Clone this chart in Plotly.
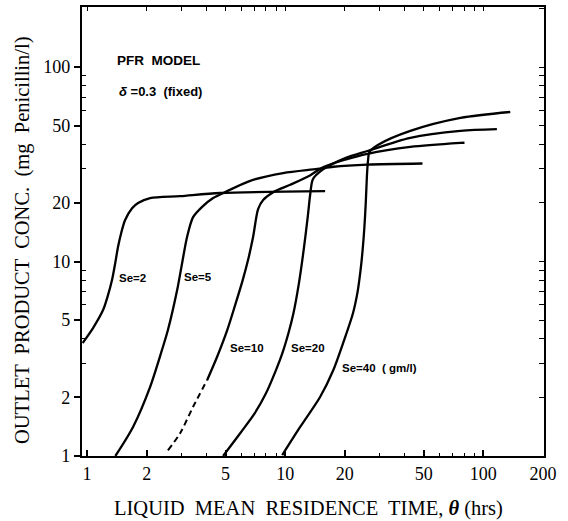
import plotly.graph_objects as go

# ---------------- data ----------------
x_ticks = [1, 2, 5, 10, 20, 50, 100, 200]
y_ticks = [1, 2, 5, 10, 20, 50, 100]

se2_x = [0.95, 1.072, 1.205, 1.27, 1.337, 1.39, 1.434, 1.49, 1.555, 1.688, 1.81, 2.08, 2.95, 4.70, 15.9]
se2_y = [3.81, 4.55, 5.63, 6.6, 8.03, 9.9, 11.9, 14.1, 16.3, 18.8, 20.0, 21.2, 21.7, 22.5, 23.0]

se5_x = [1.39, 1.707, 2.08, 2.39, 2.56, 2.85, 3.02, 3.20, 3.43, 3.81, 4.33, 4.87, 6.66, 9.77, 14.5, 17.5, 26.0, 49.3]
se5_y = [1.0, 1.41, 2.26, 3.51, 4.44, 7.13, 9.83, 13.4, 16.9, 19.1, 21.2, 22.5, 26.0, 28.5, 29.9, 30.7, 31.5, 31.9]

se10_x = [2.56, 2.95, 3.43, 4.04, 4.53, 5.10, 5.6, 6.1, 6.5, 6.89, 7.30, 7.74, 8.70, 10.6, 13.4, 15.6, 20.1, 26.0, 42.8, 76.6, 80.3]
se10_y = [1.07, 1.31, 1.79, 2.46, 3.23, 4.44, 6.0, 8.0, 10.2, 13.4, 18.6, 20.7, 22.7, 24.8, 27.8, 30.6, 33.4, 35.8, 38.8, 40.7, 40.8]

se20_x = [4.86, 5.93, 7.0, 8.0, 8.9, 9.7, 10.4, 11.0, 11.7, 12.4, 13.0, 13.4, 13.8, 15.4, 20.1, 26.0, 42.8, 76.6, 117.0]
se20_y = [1.0, 1.31, 1.65, 2.1, 2.7, 3.4, 4.3, 5.4, 7.6, 11.5, 17.0, 22.5, 26.5, 29.6, 34.0, 37.0, 43.2, 46.9, 47.9]

se40_x = [9.66, 11.9, 15.0, 17.5, 19.6, 22.0, 23.2, 24.0, 24.6, 25.1, 25.5, 25.9, 26.2, 26.6, 29.5, 42.8, 76.6, 136.7]
se40_y = [1.01, 1.41, 2.01, 2.77, 3.81, 5.44, 7.0, 9.0, 11.5, 15.0, 20.0, 28.5, 33.3, 36.5, 39.8, 46.9, 54.7, 58.7]

series = [("Se=2", se2_x, se2_y), ("Se=5", se5_x, se5_y), ("Se=10", se10_x, se10_y),
          ("Se=20", se20_x, se20_y), ("Se=40 (gm/l)", se40_x, se40_y)]
# number of leading points of each curve drawn broken (as in the scanned original)
dashed_head = {"Se=10": 4}

minor_vals = [m * d for d in (1, 10, 100) for m in (3, 4, 6, 7, 8, 9)]
all_vals = [m * d for d in (1, 10, 100) for m in range(1, 10)]

# ---------------- layout geometry ----------------
W, H = 568, 521
ML, MR, MT, MB = 82, 24, 7, 65


def paper(px, py):
    return (px - ML) / (W - ML - MR), (H - MB - py) / (H - MT - MB)


XR = [-0.0253, 2.306]
YR = [0.0, 2.3085]

fig = go.Figure()
for name, xs, ys in series:
    k = dashed_head.get(name, 0)
    if k:
        fig.add_trace(go.Scatter(x=xs[:k], y=ys[:k], mode="lines", name=name,
                                 line=dict(color="black", width=2.0, shape="spline", smoothing=0.8,
                                           dash="6px,4px"),
                                 showlegend=False, hoverinfo="skip"))
    fig.add_trace(go.Scatter(x=xs[max(k - 1, 0):], y=ys[max(k - 1, 0):], mode="lines", name=name,
                             line=dict(color="black", width=2.3, shape="spline", smoothing=0.8),
                             showlegend=False, hoverinfo="skip"))
# invisible trace to anchor the mirrored (top/right) tick axes
fig.add_trace(go.Scatter(x=se2_x, y=se2_y, xaxis="x2", yaxis="y2", mode="lines",
                         opacity=0, showlegend=False, hoverinfo="skip"))

serif = "Liberation Serif"
sans = "Liberation Sans"

fig.update_layout(
    width=W, height=H, margin=dict(l=ML, r=MR, t=MT, b=MB),
    paper_bgcolor="white", plot_bgcolor="white",
    xaxis=dict(type="log", range=XR, tickvals=x_ticks, ticktext=[str(v) for v in x_ticks],
               ticks="inside", ticklen=6, tickwidth=1.5, tickcolor="black",
               showline=True, linewidth=2.2, linecolor="black", showgrid=False, zeroline=False,
               tickfont=dict(family=serif, size=18, color="black"),
               minor=dict(tickvals=minor_vals, ticks="inside", ticklen=3, tickwidth=1.2,
                          tickcolor="black", showgrid=False)),
    yaxis=dict(type="log", range=YR, tickvals=y_ticks, ticktext=[str(v) for v in y_ticks],
               ticks="outside", ticklen=6, tickwidth=1.5, tickcolor="black",
               showline=True, linewidth=2.2, linecolor="black", showgrid=False, zeroline=False,
               tickfont=dict(family=serif, size=18, color="black"),
               minor=dict(tickvals=minor_vals, ticks="inside", ticklen=4, tickwidth=1.2,
                          tickcolor="black", showgrid=False)),
    xaxis2=dict(type="log", range=XR, overlaying="x", side="top", anchor="y",
                tickvals=all_vals, ticks="inside", ticklen=4, tickwidth=1.2, tickcolor="black",
                showticklabels=False, showline=True, linewidth=2.2, linecolor="black",
                showgrid=False, zeroline=False),
    yaxis2=dict(type="log", range=YR, overlaying="y", side="right", anchor="x",
                tickvals=all_vals, ticks="inside", ticklen=5, tickwidth=1.2, tickcolor="black",
                showticklabels=False, showline=True, linewidth=2.2, linecolor="black",
                showgrid=False, zeroline=False),
)

ann = []
# axis titles
px, py = paper(308, 508)
ann.append(dict(x=px, y=py, xref="paper", yref="paper", showarrow=False,
                text="LIQUID  MEAN  RESIDENCE  TIME, <b><i>θ</i></b> (hrs)",
                font=dict(family=serif, size=20.5, color="black"), xanchor="center", yanchor="middle"))
px, py = paper(22, 240)
ann.append(dict(x=px, y=py, xref="paper", yref="paper", showarrow=False, textangle=-90,
                text="OUTLET  PRODUCT  CONC.  (mg  Penicillin/l)",
                font=dict(family=serif, size=20.5, color="black"), xanchor="center", yanchor="middle"))
# in-plot texts
for txt, x_, y_, sz in [("<b>PFR  MODEL</b>", 115, 60, 13.5),
                        ("<b><i>δ</i> =0.3  (fixed)</b>", 117, 92, 13),
                        ("<b>Se=2</b>", 117, 278, 11.5),
                        ("<b>Se=5</b>", 182, 277, 11.5),
                        ("<b>Se=10</b>", 228, 348, 11.5),
                        ("<b>Se=20</b>", 289, 348, 11.5),
                        ("<b>Se=40  ( gm/l)</b>", 340, 368, 11.5)]:
    px, py = paper(x_, y_)
    ann.append(dict(x=px, y=py, xref="paper", yref="paper", showarrow=False, text=txt,
                    font=dict(family=sans, size=sz, color="black"), xanchor="left", yanchor="middle"))
fig.update_layout(annotations=ann)

fig.write_html("out.html")
